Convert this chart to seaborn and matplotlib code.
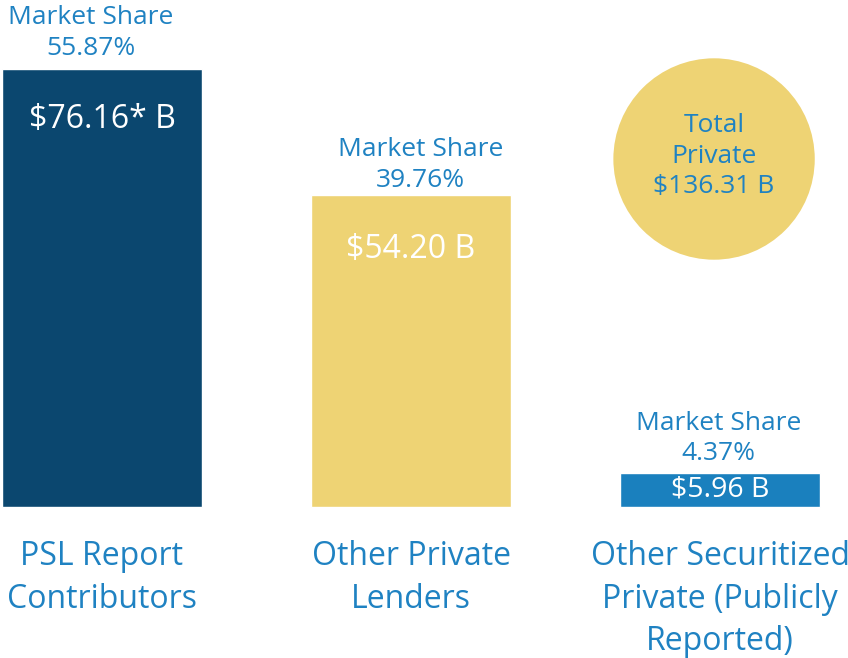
import matplotlib.pyplot as plt
import pandas as pd
import seaborn as sns

# chart values
categories = ["PSL Report\nContributors", "Other Private\nLenders",
              "Other Securitized\nPrivate (Publicly\nReported)"]
volumes = [76.16, 54.20, 5.96]
value_labels = ["$76.16* B", "$54.20 B", "$5.96 B"]
share_labels = ["Market Share\n55.87%", "Market Share\n39.76%", "Market Share\n4.37%"]
total_label = "Total\nPrivate\n$136.31 B"

bar_colors = ["#0B476F", "#EED374", "#1A80BE"]
text_blue = "#1F82C2"

sns.set_theme(style="white")
plt.rcParams["font.family"] = ["Open Sans", "DejaVu Sans"]

df = pd.DataFrame({"category": categories, "volume": volumes})

fig = plt.figure(figsize=(8.48, 6.58), dpi=100)
ax = fig.add_axes([0, 0, 1, 1])

sns.barplot(data=df, x="category", y="volume", hue="category",
            palette=bar_colors, width=0.647, saturation=1,
            legend=False, ax=ax)

# pixel layout: bars 309px apart, 0 at y=507px, 5.751 px per unit
ax.set_xlim(-0.330, 2.414)
ax.set_ylim(-151 / 5.751, 507 / 5.751)
ax.set_axis_off()

# market share above bars
share_dx = [-8, 7, -1]
share_dy = [6, 2, 4.5]
for i, (v, lab) in enumerate(zip(volumes, share_labels)):
    ax.annotate(lab, xy=(i, v), xytext=(share_dx[i], share_dy[i]), textcoords="offset points",
                ha="center", va="bottom", fontsize=19, color=text_blue,
                linespacing=1.3)

# value inside bars
inner_dy = [-36, -39, None]
for i, (v, lab) in enumerate(zip(volumes, value_labels)):
    if inner_dy[i] is None:
        ax.annotate(lab, xy=(i, v / 2), xytext=(0, 0), textcoords="offset points",
                    ha="center", va="center", fontsize=20.5, color="white")
    else:
        ax.annotate(lab, xy=(i, v), xytext=(0, inner_dy[i]), textcoords="offset points",
                    ha="center", va="center", fontsize=23, color="white")

# category labels under the bars
for i, lab in enumerate(categories):
    ax.annotate(lab, xy=(i, 0), xytext=(0, -24), textcoords="offset points",
                ha="center", va="top", fontsize=23, color=text_blue,
                linespacing=1.38)

# total private circle
circle_x = 2 - 6 / 309
circle_y = (507 - 159) / 5.751
sns.scatterplot(x=[circle_x], y=[circle_y], s=145 ** 2, color=bar_colors[1],
                edgecolor="none", ax=ax, legend=False)
ax.annotate(total_label, xy=(circle_x, circle_y), xytext=(0, 2), textcoords="offset points",
            ha="center", va="center", fontsize=19, color=text_blue, linespacing=1.3)
ax.set_xlim(-0.330, 2.414)
ax.set_ylim(-151 / 5.751, 507 / 5.751)

fig.savefig("out.png", dpi=100)
